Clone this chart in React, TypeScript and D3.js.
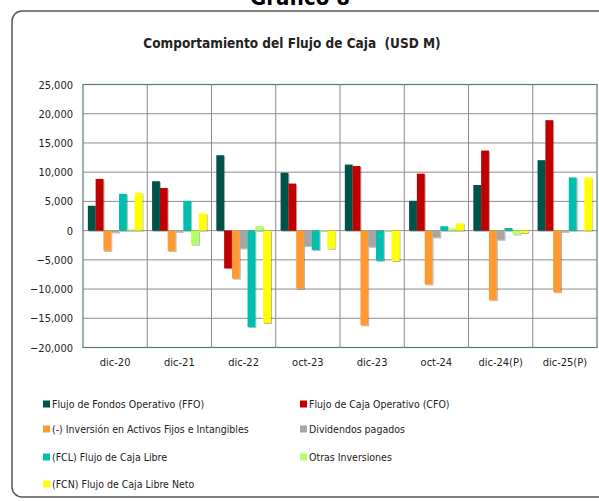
import React, { useEffect, useRef } from "react";
import * as d3 from "d3";

const categories = ["dic-20", "dic-21", "dic-22", "oct-23", "dic-23", "oct-24", "dic-24(P)", "dic-25(P)"];
const seriesNames = [
  "Flujo de Fondos Operativo (FFO)",
  "Flujo de Caja Operativo (CFO)",
  "(-) Inversión en Activos Fijos e Intangibles",
  "Dividendos pagados",
  "(FCL) Flujo de Caja Libre",
  "Otras Inversiones",
  "(FCN) Flujo de Caja Libre Neto",
];
const seriesColors = ["#00524a", "#c00000", "#ff9933", "#a6a6a6", "#00bfae", "#b3ff66", "#ffff00"];

const ffo = [4250, 8450, 12900, 9900, 11300, 5100, 7800, 12050];
const cfo = [8850, 7300, -6450, 8050, 11050, 9750, 13700, 18900];
const inversion = [-3450, -3500, -8200, -9900, -16200, -9200, -11900, -10550];
const dividendos = [-300, -200, -3050, -2650, -2750, -1150, -1550, -200];
const fcl = [6300, 5100, -16500, -3300, -5150, 750, 450, 9100];
const otras = [200, -2400, 800, 100, 100, 400, -650, 50];
const fcn = [6450, 2950, -15800, -3100, -5200, 1250, -400, 9100];
const seriesValues = [ffo, cfo, inversion, dividendos, fcl, otras, fcn];

const yTicks = [25000, 20000, 15000, 10000, 5000, 0, -5000, -10000, -15000, -20000];

const font = "'DejaVu Sans Condensed', 'DejaVu Sans', sans-serif";

export default function App() {
  const ref = useRef<SVGSVGElement>(null);

  useEffect(() => {
    const svg = d3.select(ref.current);
    svg.selectAll("*").remove();
    const W = 599, H = 501;
    const m = { left: 83, right: 2, top: 84.5, bottom: 153.5 };

    const defs = svg.append("defs");
    defs.append("filter").attr("id", "sh").append("feDropShadow")
      .attr("dx", 1).attr("dy", 1).attr("stdDeviation", 0.6)
      .attr("flood-color", "#000").attr("flood-opacity", 0.3);

    svg.append("rect").attr("width", W).attr("height", H).attr("fill", "#fff");

    // outer frame
    svg.append("rect").attr("x", 12).attr("y", 11).attr("width", 620).attr("height", 486)
      .attr("rx", 10).attr("fill", "none").attr("stroke", "#555").attr("stroke-width", 1.5);

    svg.append("text").attr("x", 300).attr("y", 5).attr("text-anchor", "middle")
      .attr("font-family", font).attr("font-weight", "bold").attr("font-size", 22)
      .text("Gráfico 8");

    svg.append("text").attr("x", 292).attr("y", 48).attr("text-anchor", "middle")
      .attr("font-family", font).attr("font-weight", "bold").attr("font-size", 13.5)
      .attr("fill", "#222").style("white-space", "pre")
      .text("Comportamiento del Flujo de Caja  (USD M)");

    const x = d3.scaleBand().domain(categories).range([m.left, W - m.right]);
    const xs = d3.scaleBand().domain(seriesNames).range([0, x.bandwidth()]).paddingOuter(0.62);
    const y = d3.scaleLinear().domain([-20000, 25000]).range([H - m.bottom, m.top]);

    const g = svg.append("g");
    // horizontal grid
    g.selectAll(".hg").data(yTicks).join("line")
      .attr("x1", m.left).attr("x2", W - m.right)
      .attr("y1", d => y(d)).attr("y2", d => y(d))
      .attr("stroke", "#8c8c8c").attr("stroke-width", 1);
    // vertical dividers
    g.selectAll(".vg").data(categories.slice(1)).join("line")
      .attr("x1", d => x(d)!).attr("x2", d => x(d)!)
      .attr("y1", m.top).attr("y2", H - m.bottom)
      .attr("stroke", "#8c8c8c").attr("stroke-width", 1);

    // bars
    seriesValues.forEach((vals, si) => {
      g.append("g").attr("filter", "url(#sh)").selectAll("rect").data(vals).join("rect")
        .attr("x", (d, i) => x(categories[i])! + xs(seriesNames[si])!)
        .attr("width", xs.bandwidth())
        .attr("y", d => y(Math.max(0, d)))
        .attr("height", d => Math.abs(y(d) - y(0)))
        .attr("fill", seriesColors[si]);
    });

    // frame of plot
    g.append("rect").attr("x", m.left).attr("y", m.top)
      .attr("width", W - m.right - m.left).attr("height", H - m.bottom - m.top)
      .attr("fill", "none").attr("stroke", "#4f7f7a").attr("stroke-width", 1.2);

    // y axis labels
    const fmt = d3.format(",");
    svg.selectAll(".yl").data(yTicks).join("text")
      .attr("x", 73).attr("y", d => y(d) + 4)
      .attr("text-anchor", "end").attr("font-family", font).attr("font-size", 11)
      .attr("fill", "#222").text(d => fmt(d));

    // x axis labels
    svg.selectAll(".xl").data(categories).join("text")
      .attr("x", d => x(d)! + x.bandwidth() / 2).attr("y", 366)
      .attr("text-anchor", "middle").attr("font-family", font).attr("font-size", 11)
      .attr("fill", "#222").text(d => d);

    // legend
    const legPos = [
      [43, 404], [300, 404], [43, 429], [300, 429], [43, 457], [300, 457], [43, 484],
    ];
    seriesNames.forEach((name, i) => {
      const [lx, ly] = legPos[i];
      svg.append("rect").attr("x", lx).attr("y", ly - 3.5).attr("width", 7).attr("height", 7)
        .attr("fill", seriesColors[i]);
      svg.append("text").attr("x", lx + 9).attr("y", ly + 4)
        .attr("font-family", font).attr("font-size", 10.5).attr("fill", "#222").text(name);
    });
  }, []);

  return <svg ref={ref} width={599} height={501} style={{ display: "block", position: "absolute", left: 0, top: 0 }} />;
}
